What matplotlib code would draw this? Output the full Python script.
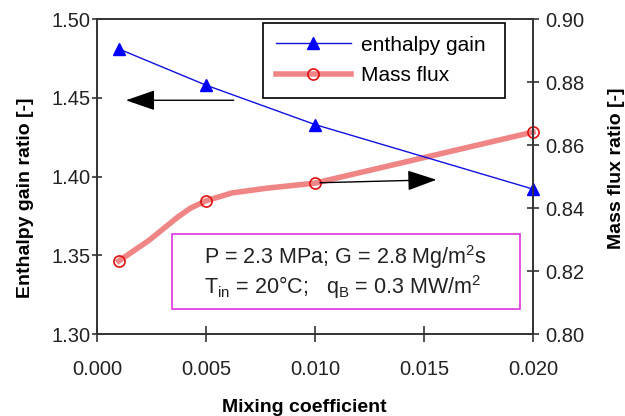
import matplotlib
matplotlib.use('Agg')
import matplotlib.pyplot as plt
from matplotlib.patches import Rectangle

plt.rcParams['font.family'] = 'Liberation Sans'
plt.rcParams['mathtext.fontset'] = 'custom'
plt.rcParams['mathtext.rm'] = 'Liberation Sans'
plt.rcParams['mathtext.it'] = 'Liberation Sans:italic'
plt.rcParams['mathtext.bf'] = 'Liberation Sans:bold'
plt.rcParams['mathtext.default'] = 'regular'

# enthalpy gain ratio (left axis)
mix_coef = [0.001, 0.005, 0.010, 0.020]
enthalpy_gain = [1.481, 1.458, 1.433, 1.392]

# mass flux ratio (right axis), curve
mass_x = [0.001, 0.0024, 0.0037, 0.0043, 0.005, 0.0062, 0.0078, 0.010, 0.020]
mass_y = [0.8232, 0.8298, 0.8371, 0.8400, 0.8423, 0.8448, 0.8463, 0.8479, 0.8641]
mass_marks = [0, 4, 7, 8]

xticks = [0.000, 0.005, 0.010, 0.015, 0.020]
lticks = [1.30, 1.35, 1.40, 1.45, 1.50]
rticks = [0.80, 0.82, 0.84, 0.86, 0.88, 0.90]

spine_col = '#333333'

fig = plt.figure(figsize=(6.25, 4.16), dpi=100)
ax = fig.add_axes([0.1552, 0.1971, 0.6976, 0.7572])
ax2 = ax.twinx()
ax.set_zorder(ax2.get_zorder() + 1)
ax.patch.set_visible(False)

l2, = ax2.plot(mass_x, mass_y, '-', color='#f08585', lw=4, marker='o', ms=8,
               mfc='none', mec='#e01010', mew=1.2, markevery=mass_marks,
               label='Mass flux', clip_on=False)
l1, = ax.plot(mix_coef, enthalpy_gain, '-', color='#1010e0', lw=1.0, marker='^',
              ms=9, mfc='#0000ff', mec='#0000ff', label='enthalpy gain',
              clip_on=False)

ax.set_xlim(0, 0.020)
ax.set_ylim(1.30, 1.50)
ax2.set_ylim(0.80, 0.90)
ax.set_xticks(xticks)
ax.set_xticklabels(['%.3f' % v for v in xticks])
ax.set_yticks(lticks)
ax.set_yticklabels(['%.2f' % v for v in lticks])
ax2.set_yticks(rticks)
ax2.set_yticklabels(['%.2f' % v for v in rticks])

for a in (ax, ax2):
    for s in a.spines.values():
        s.set_color(spine_col)
        s.set_linewidth(1.2)
ax.tick_params(axis='x', direction='inout', length=11, width=1.2, pad=13,
               labelsize=14.5, colors=spine_col, labelcolor='#222222')
ax.tick_params(axis='y', direction='inout', length=7, width=1.2, pad=1,
               labelsize=14.5, colors=spine_col, labelcolor='#222222')
ax2.tick_params(axis='y', direction='inout', length=8, width=1.2, pad=5,
                labelsize=14.5, colors=spine_col, labelcolor='#222222')

ax.set_xlabel('Mixing coefficient', fontsize=14, fontweight='bold')
ax.set_ylabel('Enthalpy gain ratio [-]', fontsize=14, fontweight='bold')
ax2.set_ylabel('Mass flux ratio [-]', fontsize=14, fontweight='bold')
ax.xaxis.set_label_coords(0.475, -0.207)
ax.yaxis.set_label_coords(-0.145, 0.432)
ax2.yaxis.set_label_coords(1.172, 0.527)

leg = ax.legend([l1, l2], ['enthalpy gain', 'Mass flux'], loc='upper left',
                bbox_to_anchor=(0.381, 0.752, 0.555, 0.235), mode='expand',
                fontsize=15, frameon=True,
                fancybox=False, framealpha=1, edgecolor='black',
                handlelength=3.6, handletextpad=0.5, borderpad=0.6,
                labelspacing=0.55, borderaxespad=0)
leg.get_frame().set_linewidth(1.2)

# direction arrows
ax.annotate('', xy=(0.060, 0.742), xytext=(0.32, 0.742), xycoords='axes fraction',
            arrowprops=dict(arrowstyle='-|>,head_length=1.3,head_width=0.45',
                            color='black', lw=1.0, mutation_scale=14))
ax.annotate('', xy=(0.785, 0.490), xytext=(0.505, 0.480), xycoords='axes fraction',
            arrowprops=dict(arrowstyle='-|>,head_length=1.3,head_width=0.45',
                            color='black', lw=1.0, mutation_scale=14))

# condition box
ax.add_patch(Rectangle((0.172, 0.079), 0.798, 0.238, transform=ax.transAxes,
                       fill=False, edgecolor='#dd33dd', lw=1.2, zorder=5))
ax.text(0.245, 0.244, 'P = 2.3 MPa; G = 2.8 Mg/m$^2$s', transform=ax.transAxes,
        fontsize=15.5, va='center', ha='left', color='#222222')
ax.text(0.245, 0.149, 'T$_{in}$ = 20°C;   q$_B$ = 0.3 MW/m$^2$', transform=ax.transAxes,
        fontsize=15.5, va='center', ha='left', color='#222222')

plt.savefig('out.png', dpi=100)
